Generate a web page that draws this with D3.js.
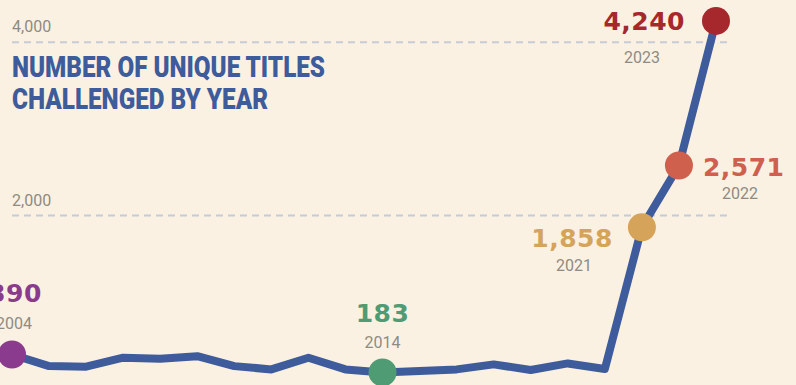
<!DOCTYPE html>
<html lang="en">
<head>
    <meta charset="UTF-8">
    <title>Unique titles challenged by year</title>
    <script src="https://cdn.jsdelivr.net/npm/d3@7"></script>
    <style>
        body{margin:0;background:#fbf1e2;}
        svg{display:block;}
    </style>
</head>
<body>
<script>
    var width=796;
    var height=385;
    // data
    var years=[2004,2005,2006,2007,2008,2009,2010,2011,2012,2013,2014,2015,2016,2017,2018,2019,2020,2021,2022,2023];
    var titles=[390,256,249,353,341,371,256,218,353,218,183,199,218,276,211,287,223,1858,2571,4240];
    var tickValues=[2000,4000];
    var highlightYears=[2004,2014,2021,2022,2023];
    var highlightColors=["#8b3b8d","#4f9b74","#d5a45a","#cf604d","#a6282c"];

    var svg=d3.select("body").append("svg").attr("width",width).attr("height",height);

    var xScale=d3.scaleLinear().domain([2004,2023]).range([12,716]);
    var yScale=d3.scaleLinear().domain([0,4000]).range([388.3,41.7]);

    // gridlines + labels
    var yAxis=d3.axisRight(yScale).tickValues(tickValues).tickSize(716).tickFormat(d3.format(","));
    var gAxis=svg.append("g").attr("transform","translate(12,0)").call(yAxis);
    gAxis.select(".domain").remove();
    gAxis.selectAll(".tick line")
        .attr("stroke","#c6cbd6").attr("stroke-width",2).attr("stroke-dasharray","7,5");
    gAxis.selectAll(".tick text")
        .attr("x",0).attr("dy",-10).attr("text-anchor","start")
        .attr("fill","#8e8b82").style("font-family","Roboto, sans-serif").style("font-size","16px");

    // title
    var title=svg.append("g").attr("fill","#3e5b9c")
        .style("font-family","Roboto, sans-serif").style("font-weight","900").style("font-size","29px");
    title.append("text").attr("x",12).attr("y",77).attr("textLength",313).attr("lengthAdjust","spacingAndGlyphs")
        .text("NUMBER OF UNIQUE TITLES");
    title.append("text").attr("x",12).attr("y",109).attr("textLength",256).attr("lengthAdjust","spacingAndGlyphs")
        .text("CHALLENGED BY YEAR");

    // line
    var line=d3.line()
        .x(function(d,i){return xScale(years[i]);})
        .y(function(d){return yScale(d);});
    svg.append("path").datum(titles)
        .attr("d",line).attr("fill","none")
        .attr("stroke","#3e5b9c").attr("stroke-width",8)
        .attr("stroke-linejoin","round");

    // highlighted points
    var points=highlightYears.map(function(yr,i){
        return {year:yr,value:titles[years.indexOf(yr)],color:highlightColors[i]};
    });
    svg.selectAll("circle").data(points).enter().append("circle")
        .attr("cx",function(d){return xScale(d.year);})
        .attr("cy",function(d){return yScale(d.value);})
        .attr("r",14)
        .attr("fill",function(d){return d.color;});

    // label offsets: [value dx, value dy, value anchor, year dx, year dy]
    var offsets={
        2004:[3,-53,"middle",2,-26],
        2014:[0,-50,"middle",0,-24],
        2021:[-29,20,"end",-68,44],
        2022:[24,10,"start",61,33],
        2023:[-31,9,"end",-74,42]
    };
    var labels=svg.selectAll(".lbl").data(points).enter().append("g").attr("class","lbl");
    labels.append("text")
        .attr("x",function(d){return xScale(d.year)+offsets[d.year][0];})
        .attr("y",function(d){return yScale(d.value)+offsets[d.year][1];})
        .attr("text-anchor",function(d){return offsets[d.year][2];})
        .attr("fill",function(d){return d.color;})
        .style("font-family","'DejaVu Sans', sans-serif").style("font-weight","bold")
        .style("font-size","25px").style("letter-spacing","0.5px")
        .text(function(d){return d3.format(",")(d.value);});
    labels.append("text")
        .attr("x",function(d){return xScale(d.year)+offsets[d.year][3];})
        .attr("y",function(d){return yScale(d.value)+offsets[d.year][4];})
        .attr("text-anchor","middle")
        .attr("fill","#8e8b82")
        .style("font-family","Roboto, sans-serif").style("font-size","16px")
        .text(function(d){return d.year;});
</script>
</body>
</html>
